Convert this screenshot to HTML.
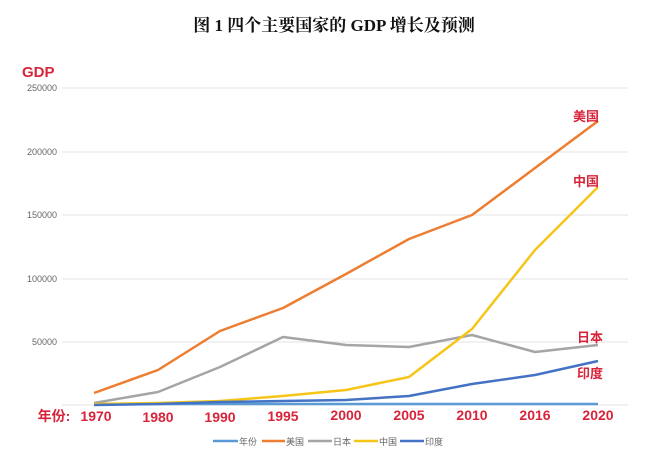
<!DOCTYPE html>
<html><head><meta charset="utf-8"><style>
html,body{margin:0;padding:0;background:#fff;width:648px;height:471px;overflow:hidden}
svg text{font-family:"Liberation Sans","Noto Sans CJK SC",sans-serif}
</style></head><body>
<svg width="648" height="471" viewBox="0 0 648 471">
<text x="334" y="31" text-anchor="middle" font-size="17" font-weight="bold" fill="#111" style="font-family:'Liberation Serif','Noto Serif CJK SC',serif">图 1  四个主要国家的 GDP 增长及预测</text>
<text x="22" y="77" font-size="15" font-weight="bold" fill="#d8243a">GDP</text>
<g stroke="#e3e3e3" stroke-width="1">
<line x1="62" y1="88" x2="628" y2="88"/><line x1="62" y1="152" x2="628" y2="152"/>
<line x1="62" y1="215" x2="628" y2="215"/><line x1="62" y1="279" x2="628" y2="279"/>
<line x1="62" y1="342" x2="628" y2="342"/><line x1="62" y1="405" x2="628" y2="405"/>
</g>
<g font-size="9" fill="#666" text-anchor="end">
<text x="57" y="91">250000</text><text x="57" y="155">200000</text><text x="57" y="218">150000</text>
<text x="57" y="282">100000</text><text x="57" y="345">50000</text>
</g>
<g fill="none" stroke-width="2.5" stroke-linejoin="round">
<polyline stroke="#5b9bd5" points="94,404 158,404 220,404 283,404 346,404 409,404 472,404 535,404 598,404"/>
<polyline stroke="#ed7d31" points="94,393 158,370 220,331 283,308 346,274 409,239 472,215 535,168 598,121"/>
<polyline stroke="#a5a5a5" points="94,403 158,392 220,367 283,337 346,345 409,347 472,335 535,352 598,345"/>
<polyline stroke="#f5c518" points="94,404 158,403 220,401 283,396 346,390 409,377 472,329 535,250 598,187"/>
<polyline stroke="#4472c4" points="94,405 158,404 220,402 283,401 346,400 409,396 472,384 535,375 598,361"/>
</g>
<g font-size="13" font-weight="bold" fill="#d8243a">
<text x="573" y="121">美国</text><text x="573" y="186">中国</text>
<text x="577" y="342">日本</text><text x="577" y="378">印度</text>
</g>
<g font-size="14" font-weight="bold" fill="#d8243a" text-anchor="middle">
<text x="54" y="421">年份:</text>
<text x="96" y="421">1970</text><text x="158" y="422">1980</text><text x="220" y="422">1990</text>
<text x="283" y="421">1995</text><text x="346" y="420">2000</text><text x="409" y="420">2005</text>
<text x="472" y="420">2010</text><text x="535" y="420">2016</text><text x="598" y="420">2020</text>
</g>
<g stroke-width="2.5">
<line x1="213" y1="441" x2="238" y2="441" stroke="#5b9bd5"/>
<line x1="262" y1="441" x2="285" y2="441" stroke="#ed7d31"/>
<line x1="308" y1="441" x2="332" y2="441" stroke="#a5a5a5"/>
<line x1="354" y1="441" x2="378" y2="441" stroke="#f5c518"/>
<line x1="400" y1="441" x2="424" y2="441" stroke="#4472c4"/>
</g>
<g font-size="9" fill="#666">
<text x="239" y="445">年份</text><text x="286" y="445">美国</text><text x="333" y="445">日本</text>
<text x="379" y="445">中国</text><text x="425" y="445">印度</text>
</g>
</svg>
</body></html>
